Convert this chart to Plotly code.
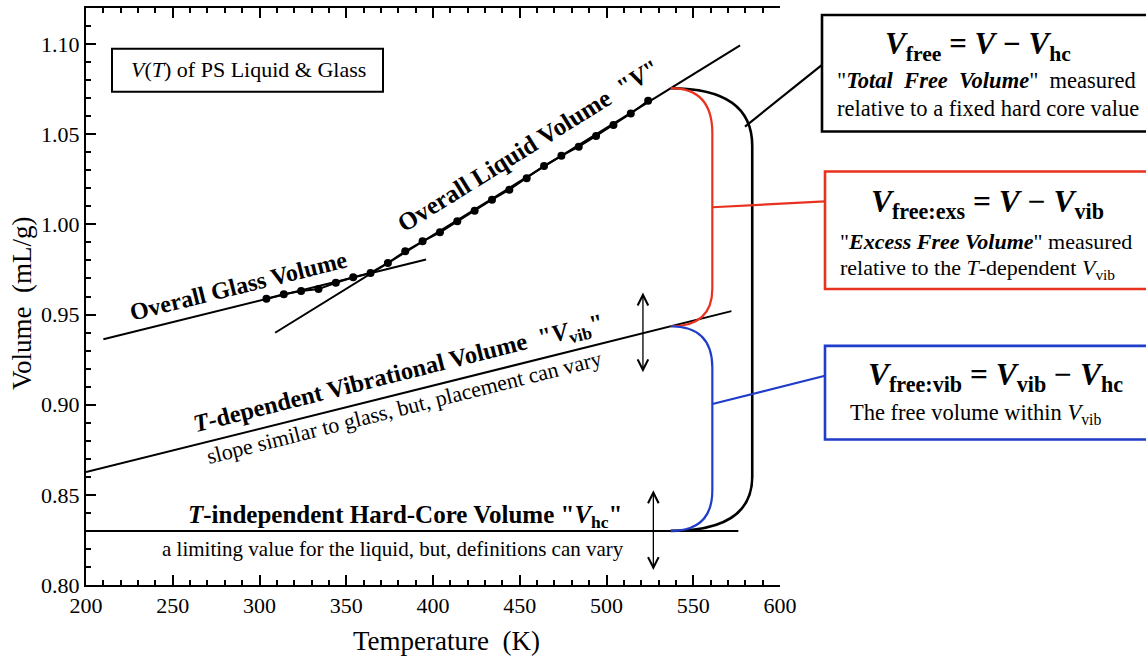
import numpy as np
import plotly.graph_objects as go

# ---- measured V(T) for polystyrene (mL/g) ----
temp_K = [304, 314, 324, 334, 344, 354, 364, 374, 384, 394, 404, 414,
          424, 434, 444, 454, 464, 474, 484, 494, 504, 514, 524]
volume = [0.9587, 0.9613, 0.9630, 0.9641, 0.9676, 0.9707, 0.9731, 0.9786,
          0.9851, 0.9906, 0.9956, 1.0017, 1.0076, 1.0137, 1.0192, 1.0256,
          1.0324, 1.0380, 1.0431, 1.0490, 1.0551, 1.0615, 1.0685]

# ---- straight-line fits / reference volumes ----
glass_T = [210, 396]
glass_V = [0.9363, 0.9805]
liquid_T = [309, 577]
liquid_V = [0.9399, 1.0993]
vib_T = [200, 572]
vib_V = [0.8626, 0.9519]
hc_T = [200, 576]
hc_V = [0.83, 0.83]

# temperature where the braces take their measurements
T_brace = 537

X_RANGE = [200, 600]
Y_RANGE = [0.80, 1.12]
FONT = "Liberation Serif, Times New Roman, serif"
RED = "#e8321f"
BLUE = "#1f3dc8"

fig = go.Figure()

for tx, vy in [(glass_T, glass_V), (liquid_T, liquid_V), (vib_T, vib_V), (hc_T, hc_V)]:
    fig.add_trace(go.Scatter(x=tx, y=vy, mode="lines",
                             line=dict(color="black", width=2), hoverinfo="skip"))

fig.add_trace(go.Scatter(x=temp_K, y=volume, mode="lines+markers",
                         line=dict(color="black", width=2),
                         marker=dict(color="black", size=8)))

# ---- braces between the reference volumes ----
v_liq = float(np.interp(T_brace, liquid_T, liquid_V))
v_vib = float(np.interp(T_brace, vib_T, vib_V))
v_hc = hc_V[0]


def brace(t0, t1, v_top, v_bot, r_top, r_bot):
    return (f"M {t0},{v_top} Q {t1},{v_top} {t1},{v_top - r_top} "
            f"L {t1},{v_bot + r_bot} Q {t1},{v_bot} {t0},{v_bot}")


shapes = [
    dict(type="path", xref="x", yref="y",
         path=brace(T_brace, 584, v_liq, v_hc, 0.032, 0.03),
         line=dict(color="black", width=2.6)),
    dict(type="path", xref="x", yref="y",
         path=brace(T_brace, 561, v_liq, v_vib, 0.025, 0.021),
         line=dict(color=RED, width=2.2)),
    dict(type="path", xref="x", yref="y",
         path=brace(T_brace, 561, v_vib, v_hc, 0.023, 0.0225),
         line=dict(color=BLUE, width=2.2)),
]


def px(t):
    return (t - X_RANGE[0]) / (X_RANGE[1] - X_RANGE[0])


def py(v):
    return (v - Y_RANGE[0]) / (Y_RANGE[1] - Y_RANGE[0])


# figure-pixel helpers for the side panel (plot area spans 86..780 x 6..585)
def fx(p):
    return (p - 86) / 694


def fy(p):
    return (585 - p) / 579


# connectors from the braces to the explanation boxes
shapes += [
    dict(type="line", xref="paper", yref="paper", x0=fx(745), y0=fy(125),
         x1=fx(822), y1=fy(63), line=dict(color="black", width=2.2)),
    dict(type="line", xref="paper", yref="paper",
         x0=px(561), y0=py((v_liq + v_vib) / 2), x1=fx(825), y1=fy(200),
         line=dict(color=RED, width=2.2)),
    dict(type="line", xref="paper", yref="paper",
         x0=px(561), y0=py(v_hc + 0.62 * (v_vib - v_hc)), x1=fx(825), y1=fy(375),
         line=dict(color=BLUE, width=2.2)),
]

# explanation boxes
shapes += [
    dict(type="rect", xref="paper", yref="paper", x0=fx(822), x1=fx(1150),
         y0=fy(130), y1=fy(13), line=dict(color="black", width=2.6)),
    dict(type="rect", xref="paper", yref="paper", x0=fx(825), x1=fx(1150),
         y0=fy(288), y1=fy(170), line=dict(color=RED, width=2.6)),
    dict(type="rect", xref="paper", yref="paper", x0=fx(825), x1=fx(1150),
         y0=fy(439), y1=fy(345), line=dict(color=BLUE, width=2.6)),
    dict(type="rect", xref="paper", yref="paper", x0=fx(112), x1=fx(383),
         y0=fy(90), y1=fy(47), line=dict(color="black", width=2)),
]

ann = []


def text(x, y, s, size=22, angle=0, xref="x", yref="y", xanchor="center"):
    ann.append(dict(x=x, y=y, xref=xref, yref=yref, text=s, showarrow=False,
                    textangle=angle, xanchor=xanchor, yanchor="middle",
                    font=dict(family=FONT, size=size, color="black")))


# axis titles
text(fx(446), fy(641), "Temperature\u00a0\u00a0(K)", 27, xref="paper", yref="paper")
text(fx(22), fy(303), "Volume\u00a0\u00a0(mL/g)", 27, angle=-90,
     xref="paper", yref="paper")

text(fx(248), fy(68), "<i>V</i>(<i>T</i>) of PS Liquid &amp; Glass", 22,
     xref="paper", yref="paper")

text(288, 0.9660, "<b>Overall Glass Volume</b>", 24, angle=-14)
text(455, 1.0437, "<b>Overall Liquid Volume  \"<i>V</i>\"</b>", 25, angle=-31.9)
text(380.5, 0.9165,
     "<b><i>T</i>-dependent Vibrational Volume  \"<i>V</i><sub>vib</sub>\"</b>",
     24.5, angle=-14.1)
text(383, 0.8985, "slope similar to glass, but, placement can vary", 22, angle=-14.1)
text(384, 0.8381,
     "<b><i>T</i>-independent Hard-Core Volume \"<i>V</i><sub>hc</sub>\"</b>", 25)
text(376.8, 0.8199, "a limiting value for the liquid, but, definitions can vary", 21)

# box contents
text(fx(978), fy(44),
     "<b><i>V</i><sub>free</sub> = <i>V</i> \u2212 <i>V</i><sub>hc</sub></b>", 31,
     xref="paper", yref="paper")
text(fx(835), fy(79),
     "\"<b><i>Total\u00a0\u00a0Free\u00a0\u00a0Volume</i></b>\"\u00a0\u00a0measured", 22.5,
     xref="paper", yref="paper", xanchor="left")
text(fx(835), fy(107), "relative to a fixed hard core value", 22.5,
     xref="paper", yref="paper", xanchor="left")

text(fx(987), fy(203),
     "<b><i>V</i><sub>free:exs</sub> = <i>V</i> \u2212 <i>V</i><sub>vib</sub></b>", 31.5,
     xref="paper", yref="paper")
text(fx(838), fy(240), "\"<b><i>Excess Free Volume</i></b>\" measured", 22,
     xref="paper", yref="paper", xanchor="left")
text(fx(838), fy(268),
     "relative to the <i>T</i>-dependent\u00a0<i>V</i><sub>vib</sub>", 22,
     xref="paper", yref="paper", xanchor="left")

text(fx(996), fy(376),
     "<b><i>V</i><sub>free:vib</sub> = <i>V</i><sub>vib</sub> \u2212 <i>V</i><sub>hc</sub></b>",
     31.5, xref="paper", yref="paper")
text(fx(848), fy(413), "The free volume within <i>V</i><sub>vib</sub>", 22.5,
     xref="paper", yref="paper", xanchor="left")

# placement-uncertainty arrows on V_vib and V_hc
for t_arr, v_c in [(521, float(np.interp(521, vib_T, vib_V))), (527, v_hc)]:
    ann.append(dict(x=t_arr, y=v_c + 0.0225, ax=t_arr, ay=v_c - 0.0225,
                    xref="x", yref="y", axref="x", ayref="y", text="",
                    showarrow=True, arrowside="end+start", arrowhead=5,
                    startarrowhead=5, arrowsize=1.6, startarrowsize=1.6,
                    arrowwidth=1.3, arrowcolor="black", standoff=0, startstandoff=0))

axis_common = dict(showgrid=False, zeroline=False, showline=True, linecolor="black",
                   linewidth=2, ticks="inside", ticklen=10, tickwidth=2,
                   tickcolor="black",
                   tickfont=dict(family=FONT, size=22, color="black"))

fig.update_layout(
    width=1146, height=657,
    margin=dict(l=86, r=366, t=6, b=72),
    plot_bgcolor="white", paper_bgcolor="white",
    showlegend=False,
    font=dict(family=FONT, color="black"),
    shapes=shapes, annotations=ann,
    xaxis=dict(range=X_RANGE, dtick=50, tick0=200, mirror="ticks",
               minor=dict(dtick=10, ticklen=5, tickwidth=1.5, ticks="inside",
                          tickcolor="black"),
               **axis_common),
    yaxis=dict(range=Y_RANGE, dtick=0.05, tick0=0.80, tickformat=".2f",
               mirror=False,
               minor=dict(dtick=0.01, ticklen=5, tickwidth=1.5, ticks="inside",
                          tickcolor="black"),
               **axis_common),
)

fig.write_html("out.html")
